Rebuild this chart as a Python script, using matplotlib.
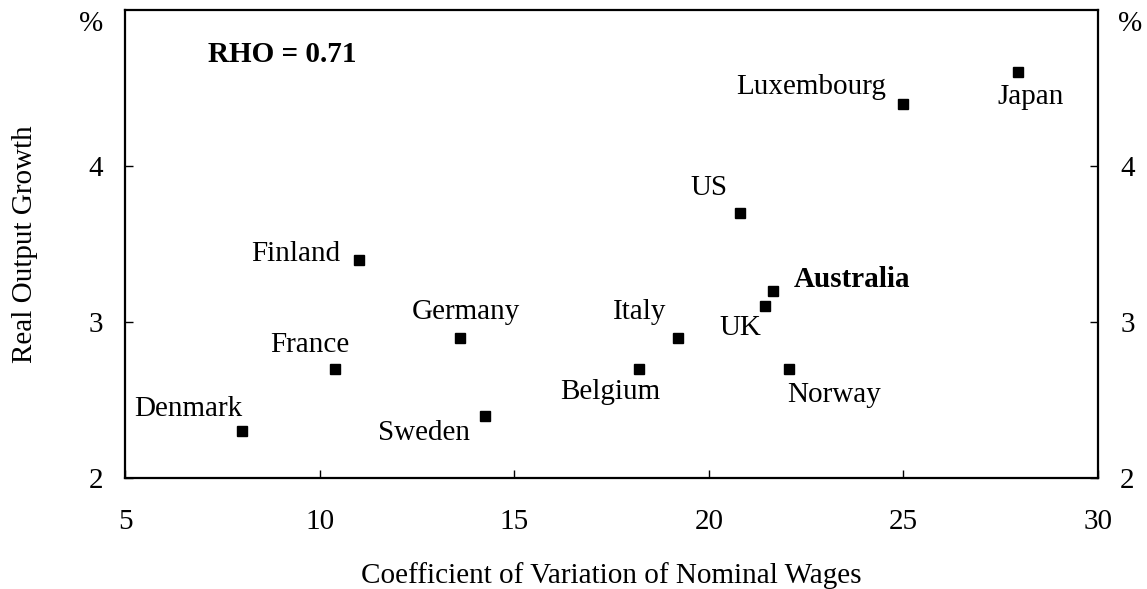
import numpy as np
import matplotlib.pyplot as plt

plt.rcParams['font.family'] = ['Liberation Serif', 'DejaVu Serif']
plt.rcParams['font.size'] = 21

# Data
countries = ['Denmark', 'France', 'Finland', 'Germany', 'Sweden', 'Belgium',
             'Italy', 'US', 'UK', 'Australia', 'Norway', 'Luxembourg', 'Japan']
wage_cv = [8.0, 10.4, 11.0, 13.6, 14.25, 18.2, 19.2, 20.8, 21.45, 21.65, 22.05, 25.0, 27.95]
growth = [2.3, 2.7, 3.4, 2.9, 2.4, 2.7, 2.9, 3.7, 3.1, 3.2, 2.7, 4.4, 4.6]

# label offsets (pixels) and alignment
offsets = {'Denmark': (-54, 22, 'center'), 'France': (-25, 24, 'center'),
           'Finland': (-18, 6, 'right'), 'Germany': (6, 26, 'center'),
           'Sweden': (-15, -17, 'right'), 'Belgium': (-28, -23, 'center'),
           'Italy': (-11, 26, 'right'), 'US': (-31, 25, 'center'),
           'UK': (-25, -22, 'center'), 'Australia': (21, 11, 'left'),
           'Norway': (-1, -26, 'left'), 'Luxembourg': (-17, 17, 'right'),
           'Japan': (12, -25, 'center')}

fig = plt.figure(figsize=(11.47, 5.89), dpi=100)
ax = fig.add_axes([125/1147, 1-478/589, (1098-125)/1147, (478-10)/589])

ax.plot(wage_cv, growth, 's', color='black', markersize=7, linestyle='none')

for name, x, y in zip(countries, wage_cv, growth):
    dx, dy, ha = offsets[name]
    ax.annotate(name, (x, y), xytext=(dx, dy), textcoords='offset pixels',
                ha=ha, va='center',
                fontweight='bold' if name == 'Australia' else 'normal')

ax.text(0.085, 0.905, 'RHO = 0.71', transform=ax.transAxes, fontweight='bold',
        ha='left', va='center')

ax.set_xlim(5, 30)
ax.set_ylim(2, 5)
ax.set_xticks([5, 10, 15, 20, 25, 30])
ax.set_yticks([2, 3, 4])
ax.tick_params(axis='x', direction='in', length=6, width=1, pad=22)
ax.tick_params(axis='y', direction='in', length=6, width=1, pad=16,
               left=True, right=True, labelleft=True, labelright=True)
for s in ax.spines.values():
    s.set_linewidth(1.6)

ax.text(-0.022, 0.97, '%', transform=ax.transAxes, ha='right', va='center')
ax.text(1.021, 0.97, '%', transform=ax.transAxes, ha='left', va='center')

ax.set_xlabel('Coefficient of Variation of Nominal Wages', labelpad=20)
ax.set_ylabel('Real Output Growth', labelpad=36)

fig.savefig('out.png', dpi=100)
